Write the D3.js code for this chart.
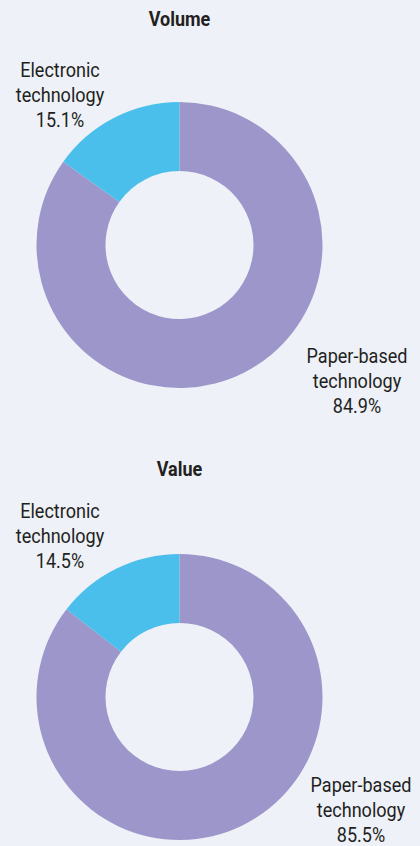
<!DOCTYPE html>
<html>
<head>
<meta charset="utf-8">
<script src="https://cdn.jsdelivr.net/npm/d3@7"></script>
<style>
  html, body { margin: 0; padding: 0; background: #eef1f8; }
  svg { display: block; }
  text { font-family: "Liberation Sans Narrow", "Roboto", "Liberation Sans", sans-serif; fill: #231f20; }
</style>
</head>
<body>
<div id="chart"></div>
<script>
// Share of payment technology by volume and by value
const categories = ["Paper-based technology", "Electronic technology"];
const labelLines = [["Paper-based", "technology"], ["Electronic", "technology"]];
const panelTitles = ["Volume", "Value"];
const volumeShares = [84.9, 15.1];
const valueShares = [85.5, 14.5];
const colors = ["#9d96ca", "#4bbfec"];

const width = 420, height = 846;
const svg = d3.select("#chart").append("svg")
  .attr("width", width).attr("height", height);

svg.append("rect").attr("width", width).attr("height", height).attr("fill", "#eef1f8");

const color = d3.scaleOrdinal().domain(categories).range(colors);
const pie = d3.pie().sort(null).value(d => d.value);
const arc = d3.arc().innerRadius(74).outerRadius(143);

// narrow the type horizontally to get a condensed look
const squeeze = 0.86;

const panels = [
  { title: panelTitles[0], values: volumeShares, cy: 245, titleY: 26.5,
    labelPos: [[357, 363], [60, 77]] },
  { title: panelTitles[1], values: valueShares, cy: 697, titleY: 476,
    labelPos: [[361, 792], [60, 518]] }
];

const cx = 179.5;

panels.forEach(p => {
  const data = categories.map((c, i) => ({ name: c, value: p.values[i], idx: i }));

  svg.append("text")
    .attr("transform", `translate(${cx},0) scale(0.9,1)`)
    .attr("x", 0).attr("y", p.titleY)
    .attr("text-anchor", "middle")
    .attr("font-size", 20).attr("font-weight", "bold")
    .text(p.title);

  const g = svg.append("g").attr("transform", `translate(${cx},${p.cy})`);
  g.selectAll("path").data(pie(data)).join("path")
    .attr("d", arc)
    .attr("fill", d => color(d.data.name));

  data.forEach(d => {
    const [lx, ly] = p.labelPos[d.idx];
    const t = svg.append("text")
      .attr("transform", `translate(${lx},0) scale(${squeeze},1)`)
      .attr("text-anchor", "middle")
      .attr("font-size", 21);
    const lines = labelLines[d.idx].concat([d3.format(".1f")(d.value) + "%"]);
    lines.forEach((line, k) => {
      t.append("tspan").attr("x", 0).attr("y", ly + k * 25).text(line);
    });
  });
});
</script>
</body>
</html>
